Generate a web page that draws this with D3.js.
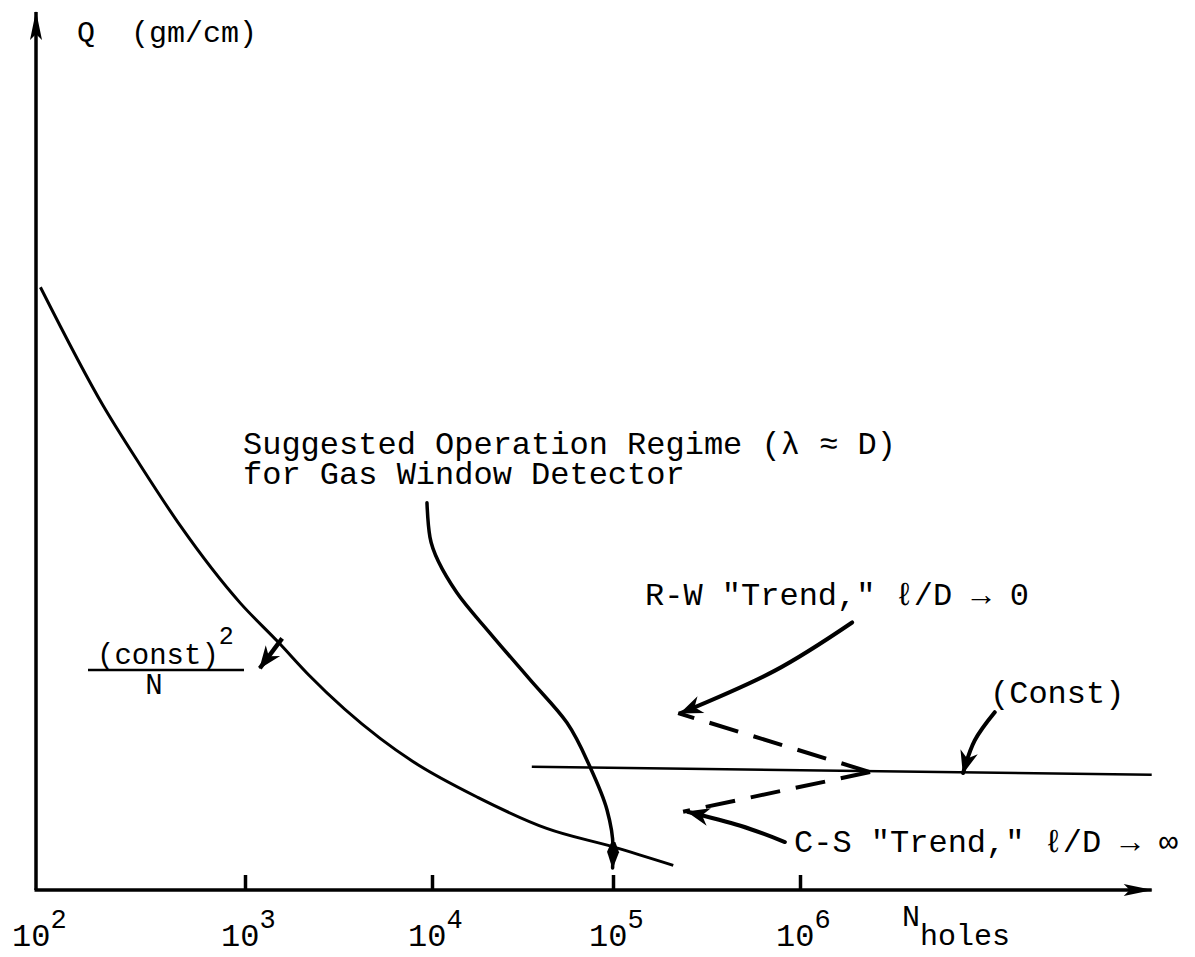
<!DOCTYPE html>
<html>
<head>
<meta charset="utf-8">
<title>Q vs N holes</title>
<script src="https://d3js.org/d3.v7.min.js"></script>
<style>
  html, body { margin: 0; background: #fff; }
  text { font-family: "Liberation Mono", "DejaVu Sans Mono", monospace; fill: #000; white-space: pre; }
</style>
</head>
<body>
<svg width="1195" height="957"></svg>
<script>
// decades on the N axis and their exponents
const decades = [1e2, 1e3, 1e4, 1e5, 1e6];
const tickExp = ["2", "3", "4", "5", "6"];

// (const)^2 / N curve
const mainN = [105, 210, 315, 490, 950, 1500, 2200, 5300, 7900, 18000, 43000, 1e5, 2.1e5];
const mainQ = [68.5, 55, 48.3, 41.4, 32.6, 28.2, 24.4, 17.2, 14.6, 10.5, 7.0, 4.9, 2.8];

// suggested operation regime curve
const regimeN = [9400, 9750, 13700, 20900, 34800, 55700, 74600, 92700, 1e5, 99500];
const regimeQ = [44.0, 40.1, 33.8, 29.2, 23.9, 19.0, 14.0, 9.1, 4.9, 2.5];

// (Const) line
const constN = [35600, 7.6e7];
const constQ = [14.0, 13.1];

// dashed trends, from the apex on the const line to each tip
const apex = [2.37e6, 13.4];
const rwTip = [2.23e5, 20.1];
const csTip = [2.37e5, 8.9];

// label arrows [N, Q]
const rwArrow = [[1.9e6, 30.4], [7.3e5, 24.9], [2.3e5, 20.1]];
const constArrow = [[1.1e7, 20.2], [8.6e6, 17.0], [7.45e6, 13.3]];
const csArrow = [[8.3e5, 5.45], [4.8e5, 7.3], [2.5e5, 8.9]];
const sqArrow = [[1580, 28.6], [1200, 25.2]];

const svg = d3.select("svg");

const x = d3.scaleLog().domain(decades).range([36, 245, 432, 613, 800]);
const y = d3.scaleLinear().domain([0, 100]).range([890, 10]);

const defs = svg.append("defs");
function marker(id, d) {
  defs.append("marker")
    .attr("id", id)
    .attr("markerUnits", "userSpaceOnUse")
    .attr("viewBox", "-30 -12 32 24")
    .attr("markerWidth", 32).attr("markerHeight", 24)
    .attr("refX", 0).attr("refY", 0)
    .attr("orient", "auto")
    .append("path").attr("d", d).attr("fill", "#000");
}
marker("axisHead", "M1,0 L-28,-6 L-22,0 L-28,6 Z");
marker("head", "M1,0 L-22,-9 L-15,0 L-22,9 Z");
marker("drop", "M1,0 L-16,-6 L-26,-2 L-26,2 L-16,6 Z");

const line = d3.line().x(d => x(d[0])).y(d => y(d[1]));
const smoothX = d3.line().x(d => x(d[0])).y(d => y(d[1])).curve(d3.curveMonotoneX);
const smoothY = d3.line().x(d => x(d[0])).y(d => y(d[1])).curve(d3.curveMonotoneY);
const smooth = d3.line().x(d => x(d[0])).y(d => y(d[1])).curve(d3.curveNatural);

// axes
const x0 = x(1e2), yBase = y(0);
svg.append("line")
  .attr("x1", x0).attr("y1", yBase).attr("x2", x0).attr("y2", y(100) + 2)
  .attr("stroke", "#000").attr("stroke-width", 3.5).attr("marker-end", "url(#axisHead)");
svg.append("line")
  .attr("x1", x0 - 1.5).attr("y1", yBase).attr("x2", x(7.6e7)).attr("y2", yBase)
  .attr("stroke", "#000").attr("stroke-width", 3.5).attr("marker-end", "url(#axisHead)");

const ax = svg.append("g")
  .attr("transform", `translate(0,${yBase})`)
  .call(d3.axisBottom(x).tickValues(decades.slice(1)).tickSizeInner(-15).tickSizeOuter(0).tickFormat(""));
ax.select(".domain").remove();
ax.selectAll(".tick line").attr("stroke", "#000").attr("stroke-width", 3.5);

// tick labels 10^n
const lbl = svg.append("g").selectAll("text")
  .data(decades)
  .join("text")
  .attr("x", d => x(d) - 24)
  .attr("y", 946)
  .attr("font-size", 32);
lbl.append("tspan").text("10");
lbl.append("tspan").attr("dy", -18).attr("font-size", 27).text((d, i) => tickExp[i]);

// N_holes
svg.append("text").attr("x", 902).attr("y", 926).attr("font-size", 30).text("N");
svg.append("text").attr("x", 920).attr("y", 945).attr("font-size", 30).text("holes");

// Q label
svg.append("text").attr("x", 77).attr("y", 42).attr("font-size", 30).text("Q  (gm/cm)");

// curves
const pts = (ns, qs) => ns.map((n, i) => [n, qs[i]]);
svg.append("path").attr("d", smoothX(pts(mainN, mainQ)))
  .attr("fill", "none").attr("stroke", "#000").attr("stroke-width", 3);
svg.append("path").attr("d", smoothY(pts(regimeN, regimeQ)))
  .attr("fill", "none").attr("stroke", "#000").attr("stroke-width", 3.5)
  .attr("stroke-linecap", "round").attr("marker-end", "url(#drop)");
svg.append("path").attr("d", line(pts(constN, constQ)))
  .attr("fill", "none").attr("stroke", "#000").attr("stroke-width", 2.6);

// dashed trends
[rwTip, csTip].forEach(tip => {
  svg.append("path").attr("d", line([apex, tip]))
    .attr("fill", "none").attr("stroke", "#000").attr("stroke-width", 4)
    .attr("stroke-dasharray", "30 16");
});

// label arrows
[rwArrow, constArrow, csArrow].forEach(a => {
  svg.append("path").attr("d", smooth(a))
    .attr("fill", "none").attr("stroke", "#000").attr("stroke-width", 4)
    .attr("stroke-linecap", "round").attr("marker-end", "url(#head)");
});
svg.append("path").attr("d", line(sqArrow))
  .attr("fill", "none").attr("stroke", "#000").attr("stroke-width", 4.5)
  .attr("marker-end", "url(#head)");

// annotation texts
const fs = 32;
const sug = svg.append("text").attr("font-size", fs);
sug.append("tspan").attr("x", 243).attr("y", 454).text("Suggested Operation Regime (\u03bb \u2248 D)");
sug.append("tspan").attr("x", 243).attr("dy", 30).text("for Gas Window Detector");
svg.append("text").attr("x", 645).attr("y", 605).attr("font-size", fs)
  .text("R-W \"Trend,\" \u2113/D \u2192 0");
svg.append("text").attr("x", 990).attr("y", 703).attr("font-size", fs)
  .text("(Const)");
svg.append("text").attr("x", 794).attr("y", 852).attr("font-size", fs)
  .text("C-S \"Trend,\" \u2113/D \u2192 \u221e");

// (const)^2 / N
const frac = svg.append("text").attr("x", 97).attr("y", 664).attr("font-size", 29);
frac.append("tspan").text("(const)");
frac.append("tspan").attr("dy", -20).attr("font-size", 25).text("2");
svg.append("line").attr("x1", 88).attr("x2", 244).attr("y1", 670).attr("y2", 670)
  .attr("stroke", "#000").attr("stroke-width", 2.5);
svg.append("text").attr("x", 154).attr("y", 694).attr("font-size", 29)
  .attr("text-anchor", "middle").text("N");
</script>
</body>
</html>
